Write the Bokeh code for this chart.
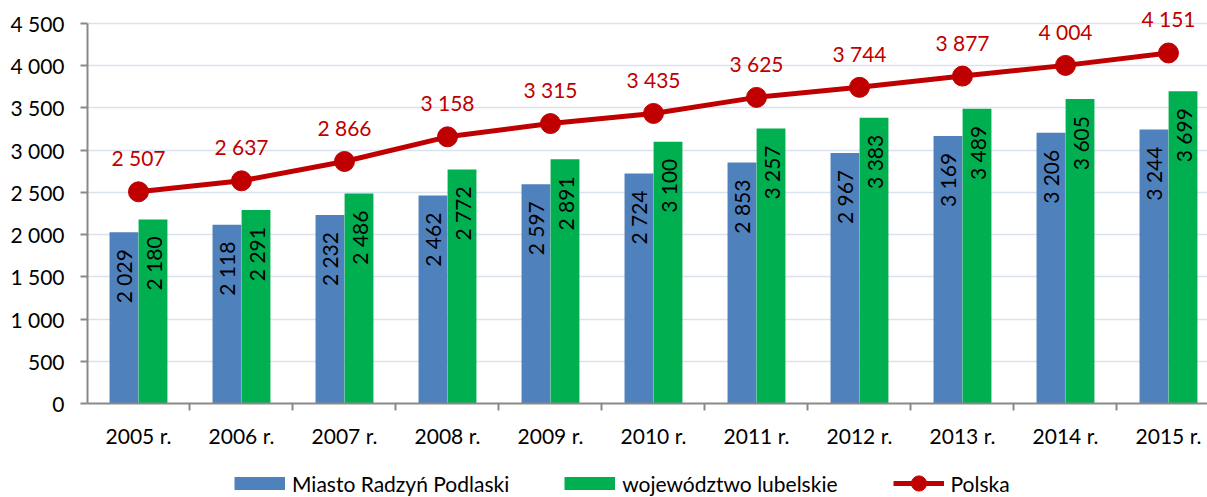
from bokeh.plotting import figure
from bokeh.layouts import column
from bokeh.models import ColumnDataSource, Range1d, FixedTicker, Legend, LegendItem
from bokeh.transform import dodge
from bokeh.core.properties import value
from bokeh.embed import file_html
from bokeh.resources import INLINE

years = ["2005 r.", "2006 r.", "2007 r.", "2008 r.", "2009 r.", "2010 r.",
         "2011 r.", "2012 r.", "2013 r.", "2014 r.", "2015 r."]
miasto = [2029, 2118, 2232, 2462, 2597, 2724, 2853, 2967, 3169, 3206, 3244]
wojewodztwo = [2180, 2291, 2486, 2772, 2891, 3100, 3257, 3383, 3489, 3605, 3699]
polska = [2507, 2637, 2866, 3158, 3315, 3435, 3625, 3744, 3877, 4004, 4151]
y_ticks = [0, 500, 1000, 1500, 2000, 2500, 3000, 3500, 4000, 4500]
y_tick_labels = ["0", "500", "1 000", "1 500", "2 000", "2 500", "3 000", "3 500", "4 000", "4 500"]
series_names = ["Miasto Radzyń Podlaski", "województwo lubelskie", "Polska"]

BLUE = "#4F81BD"
GREEN = "#00B050"
RED = "#C00000"
FONT = "Lato"
FS = "21px"

W = 1207
H_MAIN, H_LEG = 453, 44
LEFT, BOTTOM = 87, 50
TOP_GAP = 23  # space above the 4500 gridline
Y_MAX = y_ticks[-1]
frame_h = H_MAIN - BOTTOM
y_end = Y_MAX * frame_h / (frame_h - TOP_GAP)
X_STEP = 103.0
x_start = -0.495
x_end = x_start + (W - LEFT) / X_STEP


def fmt(v):
    return f"{v:,}".replace(",", " ")


idx = list(range(len(years)))
src = ColumnDataSource(dict(
    x=idx,
    miasto=miasto, woj=wojewodztwo, pol=polska,
    lm=[fmt(v) for v in miasto],
    lw=[fmt(v) for v in wojewodztwo],
    lp=[fmt(v) for v in polska],
))

p = figure(width=W, height=H_MAIN, output_backend="svg", toolbar_location=None,
           x_range=Range1d(x_start, x_end), y_range=Range1d(0, y_end),
           min_border_left=LEFT, min_border_top=0, min_border_right=0,
           min_border_bottom=BOTTOM)
p.outline_line_color = None
p.background_fill_color = "white"
p.border_fill_color = "white"

# grid
p.xgrid.grid_line_color = None
p.ygrid.ticker = FixedTicker(ticks=y_ticks)
p.ygrid.grid_line_color = "#D9E3F0"
p.ygrid.grid_line_width = 1.6

# y axis
p.yaxis.ticker = FixedTicker(ticks=y_ticks)
p.yaxis.major_label_overrides = dict(zip(y_ticks, y_tick_labels))
p.yaxis.bounds = (0, Y_MAX)
p.yaxis.major_tick_out = 7
p.yaxis.major_tick_in = 0
p.yaxis.minor_tick_line_color = None
p.yaxis.major_label_standoff = 16

# x axis
p.xaxis.ticker = FixedTicker(ticks=idx, minor_ticks=[i - 0.5 for i in idx] + [len(idx) - 0.5])
p.xaxis.major_label_overrides = dict(zip(idx, years))
p.xaxis.major_tick_out = 0
p.xaxis.major_tick_in = 0
p.xaxis.minor_tick_out = 7
p.xaxis.minor_tick_in = 0
p.xaxis.major_label_standoff = 12

for ax in (p.xaxis, p.yaxis):
    ax.axis_line_color = "#898989"
    ax.axis_line_width = 2
    ax.major_tick_line_color = "#898989"
    ax.major_tick_line_width = 2
    ax.minor_tick_line_width = 2
    ax.major_label_text_font = FONT
    ax.major_label_text_font_size = FS
    ax.major_label_text_color = "#000000"
p.xaxis.minor_tick_line_color = "#898989"

# bars
off = 0.141
bw = 0.28
p.vbar(x=dodge("x", -off), top="miasto", width=bw, source=src,
       fill_color=BLUE, line_color=None)
p.vbar(x=dodge("x", off), top="woj", width=bw, source=src,
       fill_color=GREEN, line_color=None)

# bar labels
for col, lab, o in (("miasto", "lm", -off), ("woj", "lw", off)):
    p.text(x=dodge("x", o), y=col, text=lab, source=src, angle=1.5708,
           text_align="right", text_baseline="middle", y_offset=17,
           text_font=value(FONT), text_font_size=FS, text_color="#000000")

# line
p.line(x="x", y="pol", source=src, line_color=RED, line_width=5)
p.scatter(x="x", y="pol", source=src, size=20, fill_color=RED, line_color=RED)
p.text(x="x", y="pol", text="lp", source=src, text_align="center",
       text_baseline="middle", y_offset=-34,
       text_font=value(FONT), text_font_size=FS, text_color=RED)

# legend strip (separate figure so nothing is clipped); its ranges keep the
# proxy renderers out of view, only their legend glyphs are shown
lf = figure(width=W, height=H_LEG, output_backend="svg", toolbar_location=None,
            x_range=Range1d(0, 1), y_range=Range1d(-2, -1),
            x_axis_type=None, y_axis_type=None,
            min_border_left=0, min_border_right=0, min_border_top=0, min_border_bottom=0)
lf.outline_line_color = None
lf.xgrid.visible = False
lf.ygrid.visible = False
pb = lf.line(x="x", y="miasto", source=src, line_color=BLUE, line_width=13, line_cap="butt")
pg = lf.line(x="x", y="woj", source=src, line_color=GREEN, line_width=13, line_cap="butt")
pl = lf.line(x="x", y="pol", source=src, line_color=RED, line_width=5)
ps = lf.scatter(x="x", y="pol", source=src, size=20, fill_color=RED, line_color=RED)

leg = Legend(items=[LegendItem(label=series_names[0], renderers=[pb]),
                    LegendItem(label=series_names[1], renderers=[pg]),
                    LegendItem(label=series_names[2], renderers=[pl, ps])],
             location=(147, -5), orientation="horizontal",
             glyph_width=51, glyph_height=38, label_standoff=7, spacing=55,
             padding=0, margin=0, border_line_color=None, background_fill_alpha=0,
             label_text_font=FONT, label_text_font_size=FS, label_height=24,
             label_text_color="#000000")
lf.add_layout(leg)

layout = column(p, lf, spacing=0)
open("out.html", "w").write(file_html(layout, INLINE))
